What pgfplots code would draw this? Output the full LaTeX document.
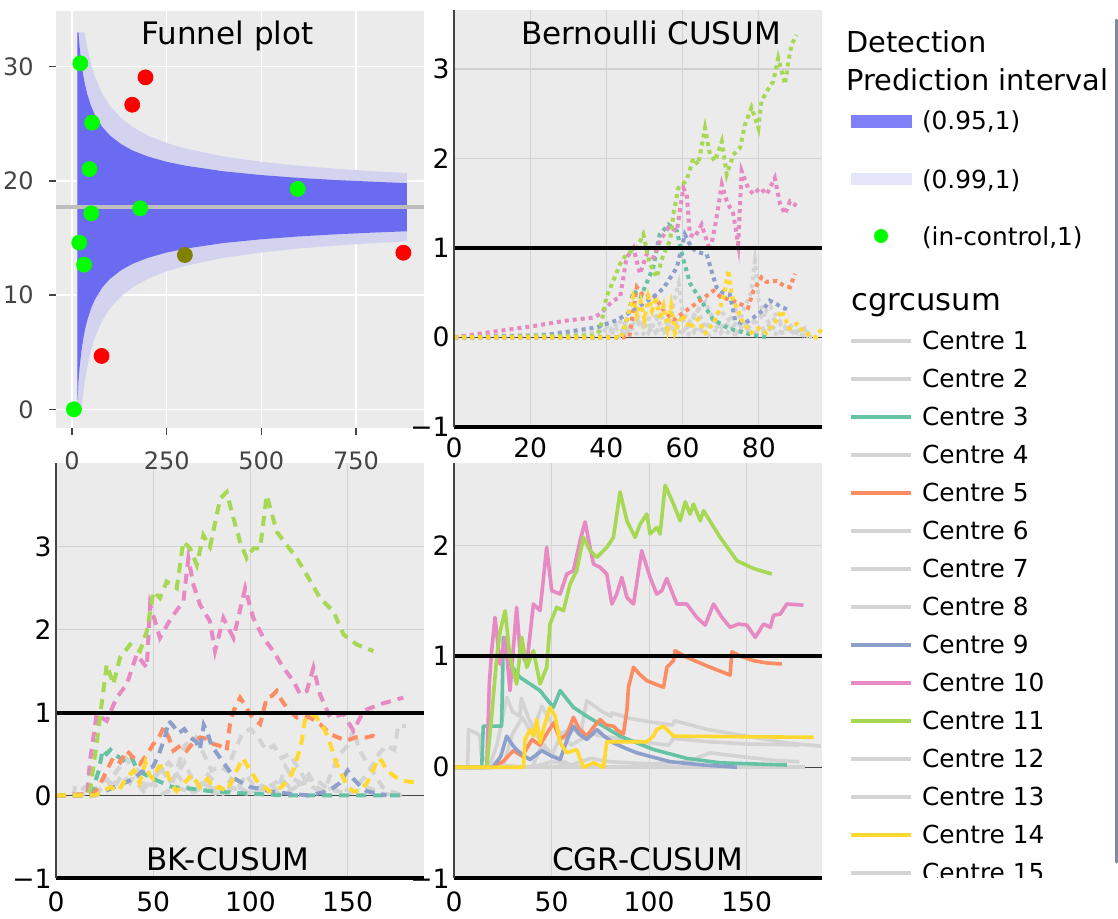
\documentclass[border=0pt]{standalone}
\usepackage{fontspec}
\setmainfont{DejaVu Sans}
\usepackage{pgfplots}
\pgfplotsset{compat=1.18}
\definecolor{bgg}{RGB}{235,235,235}
\definecolor{gridc}{RGB}{210,210,210}
\definecolor{cgray}{RGB}{211,211,211}
\definecolor{cteal}{RGB}{102,194,165}
\definecolor{corange}{RGB}{252,141,98}
\definecolor{cblue}{RGB}{141,160,203}
\definecolor{cpink}{RGB}{231,138,195}
\definecolor{cgreen}{RGB}{166,216,84}
\definecolor{cyellow}{RGB}{255,217,47}
\definecolor{band95}{RGB}{107,107,242}
\definecolor{band99}{RGB}{211,211,240}
\definecolor{mline}{RGB}{190,190,190}
\definecolor{tickg}{RGB}{68,68,68}
\definecolor{ptgreen}{RGB}{0,255,0}
\definecolor{ptred}{RGB}{255,0,0}
\definecolor{ptolive}{RGB}{128,128,0}
\definecolor{leg95}{RGB}{127,127,247}
\definecolor{leg99}{RGB}{229,229,250}
\definecolor{scrollc}{RGB}{128,137,155}
\pgfplotsset{
 cusum/.style={
  scale only axis, width=184pt, clip=false,
  axis background/.style={fill=bgg},
  axis line style={draw=none},
  grid=major, grid style={gridc, line width=0.6pt},
  major tick length=0pt,
  tick label style={font=\fontsize{13.3}{15}\selectfont, text=black, inner sep=0pt},
  yticklabel style={anchor=east, xshift=-2pt},
 },
 bern/.style={line width=2pt, dash pattern=on 2pt off 2pt},
 bk/.style={line width=2pt, dash pattern=on 5pt off 3.5pt},
 cgr/.style={line width=1.8pt, line join=round},
}
\begin{document}
\begin{tikzpicture}
\useasboundingbox (0,0) rectangle (559pt,459pt);
%% ---------------- BK-CUSUM
\begin{axis}[cusum, at={(28pt,19.85pt)}, anchor=south west, height=207.65pt,
 xmin=0, xmax=189.3, ymin=-1, ymax=4.01,
 xtick={0,50,100,150}, xticklabels={0,50,100,150},
 ytick={-1,0,1,2,3}, yticklabels={−1,0,1,2,3},
 xticklabel style={anchor=center, yshift=-11.7pt}]
\addplot[tickg, line width=0.6pt] coordinates {(0,0) (189.3,0)};
\addplot[cgray, bk] coordinates {(0,0) (9,0) (10,0.12) (14,0.08) (18,0.15) (22,0.05) (26,0.2) (30,0.1) (34,0.25) (38,0.15) (42,0.3) (46,0.1) (50,0.2) (54,0.35) (58,0.15) (62,0.25) (66,0.4) (70,0.2) (74,0.1) (78,0.25) (82,0.15) (86,0.05) (90,0.2) (94,0.1) (98,0.25) (102,0.1) (106,0.05) (110,0.15) (114,0.05) (118,0.35) (122,0.2) (126,0.15) (130,0.25) (134,0.1) (138,0.05) (142,0.3) (146,0.5) (150,0.6) (153,0.8) (156,0.55) (160,0.4) (164,0.25) (168,0.1) (172,0.05) (176,0.02) (180,0)};
\addplot[cgray, bk] coordinates {(60,0.15) (66,0.6) (72,0.7) (76,0.5) (80,0.3) (84,0.35) (88,0.3) (92,0.55) (96,0.75) (100,0.8) (104,0.7) (108,0.55) (112,0.6) (116,0.45) (120,0.5) (124,0.35) (128,0.2) (132,0.1) (136,0.05) (140,0)};
\addplot[cgray, bk] coordinates {(10,0) (20,0.05) (30,0.15) (40,0.2) (45,0.05) (50,0.15) (55,0.02) (62,0.1) (70,0.03) (78,0.12) (86,0.02) (94,0.1) (100,0.02) (108,0.08) (116,0.2) (120,0.1) (128,0.15) (136,0.05) (144,0.1) (152,0.05) (160,0.25) (166,0.5) (170,0.6) (174,0.55) (176,0.84) (180,0.84)};
\addplot[cgray, bk] coordinates {(30,0.25) (36,0.45) (40,0.3) (46,0.1) (52,0.25) (58,0.4) (64,0.2) (70,0.05) (76,0.15) (82,0.02) (90,0.1) (98,0.02) (106,0.12) (114,0) (122,0.08) (130,0.2) (136,0.15) (140,0.08) (150,0.02) (160,0.1) (168,0.02) (178,0)};
\addplot[cteal, bk] coordinates {(0,0) (18,0) (20,0.15) (22,0.3) (24,0.55) (26,0.5) (28,0.55) (30,0.5) (33,0.45) (36,0.4) (39,0.45) (42,0.3) (46,0.25) (50,0.2) (55,0.15) (60,0.1) (70,0.08) (80,0.05) (100,0.02) (120,0) (180,0)};
\addplot[corange, bk] coordinates {(0,0) (19.2,0.02) (22,0.1) (26.1,0.3) (29.5,0.46) (33,0.4) (36.4,0.54) (40,0.45) (43.2,0.38) (47,0.5) (50.1,0.62) (53,0.7) (55.3,0.82) (58,0.7) (60.4,0.54) (64,0.6) (67.2,0.54) (71,0.65) (74.1,0.7) (78,0.68) (81,0.62) (84,0.6) (87.8,0.54) (89.5,0.86) (91.3,1.02) (94.7,1.18) (97,1.1) (99.8,0.98) (102,0.92) (105,0.86) (108.4,1.18) (111,1.2) (113.6,1.26) (116,1.15) (118.7,1.06) (121,1.0) (123.9,0.94) (127,0.96) (130.7,0.94) (135.8,0.86) (141,0.74) (145,0.7) (149.6,0.66) (154,0.7) (159.9,0.7) (163,0.72) (166.7,0.7)};
\addplot[cblue, bk] coordinates {(0,0) (20,0) (25,0.05) (30,0.1) (35,0.15) (40,0.2) (45,0.3) (50,0.35) (53,0.5) (56,0.7) (58,0.9) (60,0.85) (63,0.75) (66,0.8) (69,0.7) (72,0.65) (74,0.55) (76,0.85) (78,0.75) (80,0.6) (83,0.5) (86,0.4) (89,0.3) (92,0.2) (96,0.15) (100,0.1) (105,0.08) (110,0.05) (120,0.02) (130,0) (140,0.05) (146,0.15) (150,0.3) (153,0.2) (157,0.1) (160,0.05) (170,0)};
\addplot[cpink, bk] coordinates {(0,0) (16,0) (17.5,0.42) (20.9,0.98) (26.1,0.9) (31.2,1.18) (36.4,1.34) (41.5,1.7) (46.7,1.54) (48.4,2.3) (53.5,1.9) (59.2,2.14) (65.5,2.34) (68.1,2.86) (70.7,2.54) (74.1,2.3) (79.2,2.1) (81.8,1.74) (86.1,2.14) (91.3,1.9) (97.3,2.5) (101.5,2.14) (106.7,1.9) (111.8,1.74) (117,1.54) (122.1,1.38) (125.6,1.22) (129,1.26) (132.4,1.54) (135.8,1.22) (141,0.94) (147.9,0.98) (153,0.78) (158.2,1.02) (166.7,1.1) (178.7,1.18)};
\addplot[cgreen, bk] coordinates {(0,0) (16,0) (17.5,0.06) (20.9,0.62) (22.6,0.94) (26.1,1.58) (29.5,1.34) (32.9,1.66) (38.1,1.82) (43.2,1.74) (46.7,1.98) (50.1,2.46) (53.5,2.38) (56.9,2.58) (62.1,2.5) (65.5,3.06) (69,2.98) (72.4,2.78) (75.8,3.14) (79.2,3.0) (80.9,3.18) (84.4,3.58) (87.8,3.66) (91.3,3.34) (94.7,3.06) (98.1,2.86) (101.5,2.98) (105,2.98) (108.4,3.62) (113.6,3.18) (118.7,3.02) (123.9,2.86) (129,2.66) (135.8,2.38) (142.7,2.22) (147.9,1.94) (154.7,1.82) (163.3,1.74)};
\addplot[cyellow, bk] coordinates {(0,0) (20,0) (24,0.05) (28,0.1) (32,0.05) (36,0.2) (40,0.3) (43,0.15) (46,0.4) (48,0.25) (50,0.2) (53,0.35) (56,0.35) (59,0.15) (62,0.05) (66,0.15) (70,0.25) (74,0.1) (78,0.2) (81,0.08) (84,0.1) (88,0.05) (92,0.25) (96,0.45) (100,0.3) (104,0.15) (110,0.05) (116,0.1) (120,0.2) (122,0.3) (124,0.45) (126,0.6) (128,0.9) (131,0.98) (134,0.95) (136,0.85) (138,0.8) (140,0.7) (142,0.55) (144,0.4) (146,0.3) (148,0.2) (150,0.1) (153,0.05) (156,0.05) (160,0.15) (163,0.3) (166,0.45) (168,0.4) (170,0.3) (173,0.25) (176,0.2) (180,0.17) (185,0.16)};
\addplot[black, line width=2pt] coordinates {(0,1) (189.3,1)};
\addplot[black, line width=2pt] coordinates {(0,-1) (189.3,-1)};
\draw[tickg, line width=0.8pt] (rel axis cs:0,0) -- (rel axis cs:0,1);
\end{axis}
%% ---------------- CGR-CUSUM
\begin{axis}[cusum, at={(227pt,19.85pt)}, anchor=south west, height=207.65pt,
 xmin=0, xmax=188.6, ymin=-1, ymax=2.74,
 xtick={0,50,100,150}, xticklabels={0,50,100,150},
 ytick={-1,0,1,2}, yticklabels={−1,0,1,2},
 xticklabel style={anchor=center, yshift=-11.7pt}]
\addplot[tickg, line width=0.6pt] coordinates {(0,0) (188.6,0)};
\addplot[cgray, cgr] coordinates {(0,0) (180,0)};
\addplot[cgray, cgr] coordinates {(0,0) (7,0) (7.4,0.34) (12,0.3) (13.3,0.28) (14,0.1) (18,0.05) (25,0.02) (35,0)};
\addplot[cgray, cgr] coordinates {(18,0) (22,0.2) (27,0.63) (30,0.5) (33.8,0.46) (34.5,0.62) (38,0.45) (42,0.3) (46,0.2) (50,0.12) (55,0.06) (60,0.02) (65,0)};
\addplot[cgray, cgr] coordinates {(25,0) (30,0.3) (35,0.45) (40,0.3) (45,0.55) (50,0.4) (55,0.3) (60,0.35) (65,0.3) (68,0.6) (72,0.55) (76,0.5) (80.5,0.46) (81,0.49) (90,0.44) (100,0.41) (112,0.38) (113,0.42) (130,0.34) (150,0.28) (170,0.22) (188,0.19)};
\addplot[cgray, cgr] coordinates {(40,0) (45,0.2) (50,0.1) (55,0.3) (60,0.2) (70,0.3) (80,0.27) (90,0.24) (100,0.22) (110,0.2) (112.5,0.26) (130,0.23) (150,0.21) (177,0.2)};
\addplot[cgray, cgr] coordinates {(40,0) (50,0.05) (60,0.02) (70,0.08) (80,0.05) (100,0.03) (120,0.05) (131,0.13) (150,0.09) (165,0.06) (177,0.05)};
\addplot[cteal, cgr] coordinates {(0,0) (14.2,0) (15,0.37) (24.4,0.37) (25.3,1.17) (28.7,0.93) (33.8,0.81) (39,0.75) (44.1,0.69) (50.9,0.54) (54.4,0.69) (61.2,0.54) (68,0.46) (76.6,0.37) (85.1,0.28) (102.2,0.16) (119.3,0.08) (136.4,0.04) (170.6,0.02)};
\addplot[corange, cgr] coordinates {(0,0) (19.3,0) (25,0.05) (30.4,0.15) (35,0.1) (40,0.25) (44,0.2) (47.5,0.3) (51,0.4) (54.4,0.25) (58,0.3) (61.2,0.45) (64,0.35) (68,0.28) (71,0.35) (74.9,0.43) (78,0.38) (81.7,0.37) (84,0.33) (86.8,0.3) (88.6,0.51) (89.4,0.72) (92,0.9) (95,0.84) (98.8,0.78) (103,0.75) (107.4,0.72) (109.1,0.9) (112.5,0.96) (113.3,1.05) (119.3,0.99) (130,0.91) (141.5,0.83) (142.4,1.04) (147,1.0) (153.5,0.96) (160,0.94) (168,0.93)};
\addplot[cblue, cgr] coordinates {(0,0) (20,0) (24,0.1) (27,0.28) (30,0.2) (32,0.16) (36,0.1) (39,0.07) (45,0.15) (50,0.1) (54.4,0.07) (58,0.25) (61.2,0.37) (64,0.3) (68,0.25) (71,0.3) (73.2,0.34) (77,0.28) (81.7,0.22) (88,0.17) (93.7,0.13) (100,0.1) (110.8,0.05) (127.9,0.02) (145,0)};
\addplot[cpink, cgr] coordinates {(0,0) (16.8,0) (18.1,0.75) (19.3,1.05) (21,1.35) (23.6,0.93) (26.2,1.17) (28.7,0.69) (32.1,1.44) (33.8,1.05) (37.3,0.93) (40.7,1.47) (44.1,1.41) (47.5,1.98) (50.1,1.59) (54.4,1.56) (57.8,1.74) (61.2,1.77) (64.6,2.04) (67.2,2.21) (69.7,1.98) (71.5,1.83) (74.9,1.8) (78.3,1.74) (80.9,1.47) (83.4,1.56) (86,1.71) (88.6,1.53) (92,1.47) (96.2,1.95) (100.5,1.71) (103.9,1.56) (106.5,1.59) (109,1.7) (114.2,1.47) (119.3,1.47) (124.4,1.35) (128.7,1.28) (133,1.47) (137.3,1.35) (141.5,1.26) (145.8,1.29) (150.1,1.28) (154.4,1.17) (158.6,1.29) (162.1,1.26) (163.8,1.37) (167.2,1.38) (170.6,1.47) (179.1,1.46)};
\addplot[cgreen, cgr] coordinates {(0,0) (16.8,0) (19.3,0.46) (21.9,0.99) (23.6,1.22) (26.2,1.41) (28.7,0.99) (32.1,0.75) (34.7,1.17) (37.3,0.9) (40.7,1.05) (44.1,0.75) (47.5,0.9) (49.2,1.29) (52.6,1.44) (56.1,1.41) (59.5,1.65) (62.9,1.77) (66.3,2.07) (69.7,1.95) (73.2,1.89) (78.3,1.98) (81.7,2.07) (85.1,2.48) (88.6,2.22) (92.8,2.07) (95.4,2.19) (98.8,2.28) (100.5,2.1) (103.9,2.16) (105.6,2.1) (108.2,2.54) (112.5,2.37) (115.9,2.22) (118.5,2.39) (121,2.28) (122.7,2.37) (126.2,2.22) (127.9,2.31) (136.4,2.07) (145,1.86) (153.5,1.79) (162.9,1.74)};
\addplot[cyellow, cgr] coordinates {(0,0) (35.6,0) (36.4,0.25) (39,0.34) (40.7,0.28) (42.4,0.43) (44.1,0.22) (46.7,0.4) (49.2,0.54) (51.8,0.46) (54.4,0.22) (57.8,0.13) (62.9,0.16) (66.3,0) (71.5,0.04) (76.6,0) (78.3,0.23) (98.8,0.23) (102.2,0.28) (103.9,0.34) (107.4,0.37) (112.5,0.28) (184.3,0.27)};
\addplot[black, line width=2pt] coordinates {(0,1) (188.6,1)};
\addplot[black, line width=2pt] coordinates {(0,-1) (188.6,-1)};
\draw[tickg, line width=0.8pt] (rel axis cs:0,0) -- (rel axis cs:0,1);
\end{axis}
%% ---------------- Funnel plot
\begin{axis}[at={(28pt,245pt)}, anchor=south west, scale only axis, width=184pt, height=208.5pt,
 xmin=-42.3, xmax=929.5, ymin=-1.64, ymax=34.88,
 axis background/.style={fill=bgg}, axis line style={draw=none},
 grid=major, grid style={white, line width=0.7pt},
 xtick={0,250,500,750}, xticklabels={0,250,500,750},
 ytick={0,10,20,30}, yticklabels={0,10,20,30},
 tick pos=left, tick align=outside, major tick length=3.5pt, tick style={tickg, line width=0.6pt},
 tick label style={font=\fontsize{12}{14}\selectfont, text=tickg, inner sep=0pt},
 yticklabel style={anchor=east, xshift=-7.5pt},
 xticklabel style={anchor=center, yshift=-13pt}]
\addplot[fill=band99, draw=none] coordinates {(14,33) (34,33) (35,32.71) (40,31.74) (50,30.26) (60,29.16) (80,27.63) (100,26.58) (130,25.49) (160,24.72) (200,23.98) (250,23.32) (300,22.83) (400,22.14) (500,21.67) (600,21.32) (700,21.06) (800,20.84) (884,20.69)
 (884,14.71) (800,14.56) (700,14.34) (600,14.08) (500,13.73) (400,13.26) (300,12.57) (250,12.08) (200,11.42) (160,10.68) (130,9.91) (100,8.82) (80,7.77) (60,6.24) (50,5.14) (40,3.66) (35,2.69) (30,1.49) (25,0) (14,0)} -- cycle;
\addplot[fill=band95, draw=none] coordinates {(14,33) (17,33) (20,31.74) (25,30.26) (30,29.16) (35,28.31) (40,27.63) (50,26.58) (60,25.81) (80,24.72) (100,23.98) (130,23.21) (160,22.66) (200,22.14) (250,21.67) (300,21.33) (400,20.84) (500,20.51) (600,20.26) (700,20.07) (800,19.92) (884,19.81)
 (884,15.59) (800,15.48) (700,15.33) (600,15.14) (500,14.89) (400,14.56) (300,14.07) (250,13.73) (200,13.26) (160,12.74) (130,12.19) (100,11.42) (80,10.68) (60,9.59) (50,8.82) (40,7.77) (35,7.09) (30,6.24) (25,5.14) (20,3.66) (17,2.45) (14,0.5)} -- cycle;
\addplot[mline, line width=2pt] coordinates {(-42.3,17.7) (929.5,17.7)};
\addplot[only marks, mark=*, mark size=3.75pt, draw=ptgreen, fill=ptgreen, mark options={draw=ptgreen, fill=ptgreen}] coordinates {(5,0) (22,30.3) (53,25.1) (46,21.04) (51,17.16) (19,14.6) (32,12.66) (180,17.6) (596,19.3)};
\addplot[only marks, mark=*, mark size=3.75pt, draw=ptred, fill=ptred, mark options={draw=ptred, fill=ptred}] coordinates {(194,29.07) (159,26.67) (78,4.67) (875,13.71)};
\addplot[only marks, mark=*, mark size=3.75pt, draw=ptolive, fill=ptolive, mark options={draw=ptolive, fill=ptolive}] coordinates {(298,13.51)};
\end{axis}
%% ---------------- Bernoulli CUSUM
\begin{axis}[cusum, at={(227pt,245.65pt)}, anchor=south west, height=208.35pt,
 xmin=0, xmax=96.6, ymin=-1, ymax=3.66,
 xtick={0,20,40,60,80}, xticklabels={0,20,40,60,80},
 ytick={-1,0,1,2,3}, yticklabels={−1,0,1,2,3},
 xticklabel style={anchor=center, yshift=-10.65pt}]
\addplot[tickg, line width=0.6pt] coordinates {(0,0) (96.6,0)};
\addplot[cgray, bern] coordinates {(0,0) (38,0) (40,0.1) (42,0.05) (44,0.2) (46,0.1) (48,0.25) (50,0.1) (52,0.3) (54,0.15) (56,0.05) (58,0.45) (59,0.6) (60,0.3) (62,0.15) (64,0.3) (66,0.1) (68,0.2) (70,0.05) (72,0.15) (74,0.05) (76,0.3) (78,0.5) (79,0.85) (80,0.4) (82,0.2) (84,0.1) (86,0.05) (88,0.15) (90,0.05) (92,0.1) (94,0)};
\addplot[cgray, bern] coordinates {(0,0) (40,0) (42,0.15) (45,0.05) (48,0.2) (51,0.05) (54,0.25) (57,0.1) (60,0.05) (63,0.25) (66,0.4) (68,0.2) (71,0.1) (74,0.3) (77,0.1) (80,0.2) (83,0.35) (86,0.15) (89,0.05) (92,0.1) (93,0)};
\addplot[cgray, bern] coordinates {(0,0) (36,0.05) (40,0.12) (43,0) (47,0.1) (50,0.2) (53,0.05) (56,0.12) (60,0.2) (63,0.05) (67,0.15) (70,0.3) (72,0.2) (75,0.1) (78,0.2) (81,0.05) (84,0.2) (87,0.1) (90,0.05) (93,0)};
\addplot[cgray, bern] coordinates {(0,0) (44,0) (46,0.08) (49,0.02) (52,0.1) (55,0.05) (58,0.15) (61,0.02) (64,0.1) (67,0.02) (70,0.12) (73,0.02) (76,0.1) (79,0.05) (82,0.12) (85,0.02) (88,0.1) (91,0.03) (94,0)};
\addplot[cteal, bern] coordinates {(0,0) (44,0) (46,0.3) (47.1,0.52) (49,0.45) (50.5,0.6) (52.3,0.78) (54,1.15) (56.3,1.26) (58.5,1.19) (60,0.9) (62,0.6) (65,0.4) (68,0.2) (72,0.1) (78,0.03) (82,0)};
\addplot[corange, bern] coordinates {(0,0) (46,0) (48,0.56) (50,0.45) (52.3,0.48) (55,0.3) (57.6,0.19) (61,0.3) (64.6,0.41) (68.1,0.52) (70,0.45) (73.3,0.41) (77.2,0.33) (78.6,0.52) (80.7,0.67) (82,0.62) (84.7,0.63) (86.5,0.58) (88.2,0.56) (89.5,0.71)};
\addplot[cblue, bern] coordinates {(0,0) (23,0.02) (37.4,0.11) (42.7,0.19) (47,0.3) (52.3,0.45) (55,0.55) (58.5,0.78) (60.6,1.15) (62.4,1.0) (64,0.95) (66.3,0.93) (68.9,0.56) (70.5,0.5) (72.4,0.48) (73.8,0.19) (76,0.15) (78.6,0.22) (81,0.3) (82.9,0.41) (86.4,0.33) (88.2,0.3)};
\addplot[cpink, bern] coordinates {(0,0) (10,0.06) (20,0.12) (30,0.19) (36.6,0.22) (38.3,0.26) (41.8,0.41) (43.6,0.45) (45.3,0.89) (47.1,1.0) (48.8,0.71) (50.6,0.93) (52.3,0.89) (54.1,1.08) (56.3,1.23) (58.5,1.19) (60.2,1.67) (61.1,1.6) (61.9,1.15) (63.2,1.12) (65,1.26) (67.2,0.97) (68.5,1.23) (70.3,1.71) (71.6,1.52) (73.3,1.38) (74.6,1.04) (75.5,1.86) (77.2,1.67) (78.6,1.6) (80.3,1.67) (82.1,1.6) (84.2,1.78) (85.6,1.49) (86.9,1.38) (88.2,1.52) (89.9,1.47)};
\addplot[cgreen, bern] coordinates {(0,0) (36.6,0.02) (38.3,0.07) (40,0.45) (41.8,0.63) (43.6,0.82) (45.3,0.93) (48,1.0) (49.7,1.15) (51.4,0.82) (53.2,0.67) (55,0.93) (56.7,1.08) (57.6,1.38) (58.9,1.67) (61,1.75) (62.8,2.0) (64.1,1.93) (65.9,2.34) (67.2,2.04) (68.5,1.97) (70.3,2.19) (71.6,1.82) (73.3,2.04) (75.1,2.12) (76.4,2.38) (78.1,2.57) (79.9,2.34) (80.7,2.64) (82.1,2.75) (83.8,2.86) (85.1,3.12) (86.9,2.83) (87.8,3.09) (88.6,3.27) (89.9,3.38)};
\addplot[cyellow, bern] coordinates {(0,0) (44,0) (46,0.3) (47,0.45) (48,0.25) (49,0.4) (50,0.2) (51,0.45) (52,0.3) (53,0.45) (54,0.2) (55,0.35) (56,0.1) (57,0.35) (58,0.05) (60,0.25) (62,0.1) (64,0.2) (66,0.05) (68,0.15) (70,0.35) (71,0.5) (72,0.75) (73,0.45) (74,0.35) (76,0.15) (78,0.05) (80,0.1) (82,0.05) (84,0.15) (86,0.3) (87,0.2) (88,0.1) (90,0.15) (92,0.05) (95,0) (96.6,0.1)};
\addplot[black, line width=2pt] coordinates {(0,1) (96.6,1)};
\addplot[black, line width=2pt] coordinates {(0,-1) (96.6,-1)};
\draw[tickg, line width=0.8pt] (rel axis cs:0,0) -- (rel axis cs:0,1);
\end{axis}
%% ---------------- titles
\node[anchor=base, font=\fontsize{15.5}{18}\selectfont] at (113.75pt,436.5pt) {Funnel plot};
\node[anchor=base, font=\fontsize{15.5}{18}\selectfont] at (325.5pt,436.5pt) {Bernoulli CUSUM};
\node[anchor=base, font=\fontsize{15.5}{18}\selectfont] at (114pt,23.65pt) {BK-CUSUM};
\node[anchor=base, font=\fontsize{15.5}{18}\selectfont] at (323.75pt,23.65pt) {CGR-CUSUM};
%% ---------------- legend
\begin{scope}
\clip (415pt,20.5pt) rectangle (559pt,459pt);
\node[anchor=base west, inner sep=0pt, font=\fontsize{14.4}{17}\selectfont] at (423pt,432.65pt) {Detection};
\node[anchor=base west, inner sep=0pt, font=\fontsize{14.4}{17}\selectfont] at (423pt,413.65pt) {Prediction interval};
\fill[leg95] (425.5pt,395pt) rectangle (456pt,401.5pt);
\node[anchor=base west, inner sep=0pt, font=\fontsize{12.4}{15}\selectfont] at (460.8pt,394.25pt) {(0.95,1)};
\fill[leg99] (425.5pt,366.5pt) rectangle (456pt,372.5pt);
\node[anchor=base west, inner sep=0pt, font=\fontsize{12.4}{15}\selectfont] at (460.8pt,364.85pt) {(0.99,1)};
\fill[ptgreen] (440.5pt,341pt) circle (3.5pt);
\node[anchor=base west, inner sep=0pt, font=\fontsize{12.4}{15}\selectfont] at (460.8pt,336.5pt) {(in-control,1)};
\node[anchor=base west, inner sep=0pt, font=\fontsize{15.3}{18}\selectfont] at (425.5pt,304pt) {cgrcusum};
\foreach \k/\c in {1/cgray,2/cgray,3/cteal,4/cgray,5/corange,6/cgray,7/cgray,8/cgray,9/cblue,10/cpink,11/cgreen,12/cgray,13/cgray,14/cyellow,15/cgray} {
  \pgfmathsetmacro\yl{288.65-19*(\k-1)}
  \pgfmathsetmacro\yb{284.15-19*(\k-1)}
  \draw[\c, line width=2pt] (425.5pt,\yl pt) -- (455.5pt,\yl pt);
  \node[anchor=base west, inner sep=0pt, font=\fontsize{12.4}{15}\selectfont] at (460.8pt,\yb pt) {Centre \k};
}
\end{scope}
\draw[scrollc, line width=1.5pt, line cap=round] (558.2pt,449pt) -- (558.2pt,28pt);
\end{tikzpicture}
\end{document}
